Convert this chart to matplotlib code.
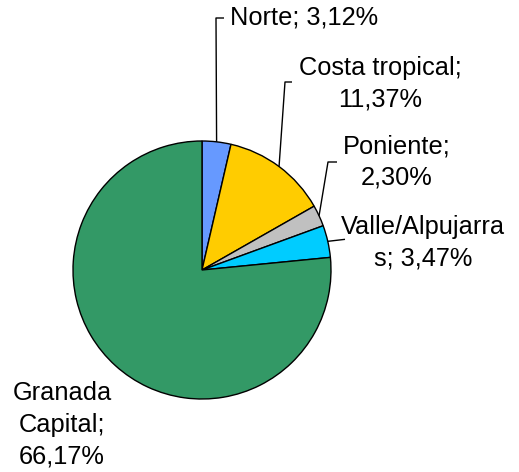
import numpy as np
import matplotlib
matplotlib.use("Agg")
import matplotlib.pyplot as plt

categories = ["Norte", "Costa tropical", "Poniente", "Valle/Alpujarras", "Granada Capital"]
values = [3.12, 11.37, 2.30, 3.47, 66.17]
label_texts = ["Norte; 3,12%", "Costa tropical;\n11,37%", "Poniente;\n2,30%",
               "Valle/Alpujarra\ns; 3,47%", "Granada\nCapital;\n66,17%"]
colors = ["#6699FF", "#FFCC00", "#C0C0C0", "#00CCFF", "#339966"]

W, H = 519, 472
fig = plt.figure(figsize=(W / 100, H / 100), dpi=100)
ax = fig.add_axes([0, 0, 1, 1])

cx, cy, R = 202, H - 270, 129
wedges, _ = ax.pie(values, colors=colors, startangle=90, counterclock=False,
                   center=(cx, cy), radius=R,
                   wedgeprops=dict(edgecolor="black", linewidth=1.0))
ax.set_xlim(0, W)
ax.set_ylim(0, H)
ax.set_aspect("equal")
ax.axis("off")

# label layout: (text x, text y, ha, elbow point or None, end x)
layout = [
    (230, H - 18, "left", (216, H - 18), 224),
    (380, H - 84, "center", (285, H - 82), 292),
    (397, H - 162, "center", (328, H - 162), 337),
    (423, H - 243, "center", None, 345),
    (62, H - 425, "center", None, None),
]

for w, txt, (tx, ty, ha, elbow, ex) in zip(wedges, label_texts, layout):
    ax.text(tx, ty, txt, ha=ha, va="center", fontsize=18.3,
            family=["Liberation Sans", "DejaVu Sans"], linespacing=1.4)
    if ex is None:
        continue
    mid = np.deg2rad((w.theta1 + w.theta2) / 2)
    ax0 = cx + R * np.cos(mid)
    ay0 = cy + R * np.sin(mid)
    if elbow is not None:
        xs = [ax0, elbow[0], ex]
        ys = [ay0, elbow[1], elbow[1]]
    else:
        xs = [ax0, ex]
        ys = [ay0, ay0 + 2]
    ax.plot(xs, ys, color="black", linewidth=1.0, solid_capstyle="butt")

fig.savefig("out.png", dpi=100)
